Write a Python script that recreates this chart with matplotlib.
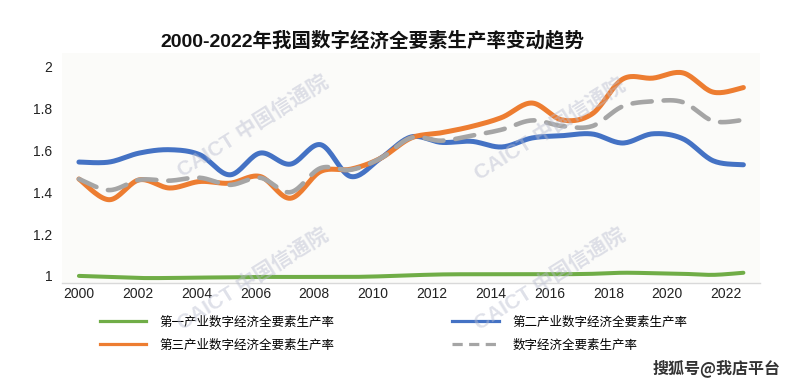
import numpy as np
import matplotlib
matplotlib.use('Agg')
from matplotlib import pyplot as plt
from matplotlib.lines import Line2D

plt.rcParams['font.family'] = ['Liberation Sans', 'Noto Sans CJK SC', 'DejaVu Sans']

# data
years = np.arange(2000, 2023)
primary = [1.000, 0.995, 0.990, 0.990, 0.992, 0.993, 0.995, 0.995, 0.995, 0.995, 0.998, 1.003,
           1.007, 1.008, 1.008, 1.008, 1.008, 1.010, 1.015, 1.013, 1.010, 1.005, 1.015]
secondary = [1.544, 1.544, 1.587, 1.603, 1.579, 1.483, 1.587, 1.534, 1.627, 1.475, 1.563, 1.664,
             1.638, 1.643, 1.616, 1.659, 1.670, 1.678, 1.635, 1.679, 1.655, 1.550, 1.531]
tertiary = [1.463, 1.364, 1.459, 1.420, 1.451, 1.443, 1.475, 1.371, 1.499, 1.510, 1.563, 1.659,
            1.684, 1.714, 1.757, 1.826, 1.745, 1.775, 1.940, 1.945, 1.970, 1.878, 1.900]
overall = [1.463, 1.410, 1.459, 1.455, 1.469, 1.435, 1.469, 1.400, 1.515, 1.507, 1.563, 1.660,
           1.646, 1.670, 1.699, 1.743, 1.716, 1.716, 1.810, 1.834, 1.830, 1.740, 1.745]

names = ['第一产业数字经济全要素生产率', '第二产业数字经济全要素生产率',
         '第三产业数字经济全要素生产率', '数字经济全要素生产率']
title = '2000-2022年我国数字经济全要素生产率变动趋势'
yticks = [1, 1.2, 1.4, 1.6, 1.8, 2]
xtick_years = np.arange(2000, 2023, 2)


def smooth(x, y, n=20):
    # excel-style smoothed line (catmull-rom bezier)
    x = np.asarray(x, float)
    y = np.asarray(y, float)
    px = np.concatenate([[x[0]], x, [x[-1]]])
    py = np.concatenate([[y[0]], y, [y[-1]]])
    t = np.linspace(0, 1, n)[:, None]
    xs, ys = [], []
    for i in range(1, len(px) - 2):
        p1 = np.array([px[i], py[i]])
        p2 = np.array([px[i + 1], py[i + 1]])
        c1 = p1 + (p2 - np.array([px[i - 1], py[i - 1]])) / 6
        c2 = p2 - (np.array([px[i + 2], py[i + 2]]) - p1) / 6
        pts = ((1 - t) ** 3) * p1 + 3 * ((1 - t) ** 2) * t * c1 + 3 * (1 - t) * t ** 2 * c2 + t ** 3 * p2
        xs.append(pts[:, 0])
        ys.append(pts[:, 1])
    return np.concatenate(xs), np.concatenate(ys)


green = '#70AD47'
blue = '#4472C4'
orange = '#ED7D31'
gray = '#A5A5A5'

fig = plt.figure(figsize=(7.92, 3.85), dpi=100, facecolor='white')
ax = fig.add_axes([0.0783, 0.2649, 0.8813, 0.5974])
ax.set_facecolor('#fbfbf9')

x, y = smooth(years, primary)
ax.plot(x, y, color=green, lw=2.9, solid_capstyle='round', zorder=3)
x, y = smooth(years, secondary)
ax.plot(x, y, color=blue, lw=3.6, solid_capstyle='round', zorder=3)
x, y = smooth(years, tertiary)
ax.plot(x, y, color=orange, lw=3.6, solid_capstyle='round', zorder=3)
x, y = smooth(years, overall)
ax.plot(x, y, color=gray, lw=3.3, dashes=(4.2, 2.6), dash_capstyle='round', zorder=4)

ax.set_xlim(1999.44, 2022.55)
ax.set_ylim(0.966, 2.065)
for s in ['top', 'right', 'left']:
    ax.spines[s].set_visible(False)
ax.spines['bottom'].set_color('#d9d9d9')
ax.spines['bottom'].set_linewidth(1)

# category labels sit slightly tighter than the plotted points
ax.set_xticks(2000 + (xtick_years - 2000) * 0.974)
ax.set_xticklabels([str(v) for v in xtick_years], fontsize=10, color='#222222')
ax.set_yticks(yticks)
ax.set_yticklabels([f'{v:g}' for v in yticks], fontsize=10, color='#222222')
ax.tick_params(axis='x', length=0, pad=3)
ax.tick_params(axis='y', length=0, pad=7)

fig.text(0.470, 0.8935, title, ha='center', va='center', fontsize=14, fontweight='bold',
         color='#111111', family=['Liberation Sans', 'Noto Sans CJK SC'])

# watermark
for wx, wy in [(253, 127), (253, 280), (550, 130), (550, 280)]:
    fig.text(wx / 792, 1 - wy / 385, 'CAICT 中国信通院', ha='center', va='center', rotation=32,
             fontsize=15, fontweight='bold', color='#b8bccf', alpha=0.45, zorder=10,
             family=['Liberation Sans', 'Noto Sans CJK SC'])

handles = [Line2D([], [], color=green, lw=2.3),
           Line2D([], [], color=orange, lw=2.3),
           Line2D([], [], color=blue, lw=2.3),
           Line2D([], [], color=gray, lw=2.3, dashes=(3.2, 2.0))]
labels = [names[0], names[2], names[1], names[3]]
fig.legend(handles, labels, loc='upper left', bbox_to_anchor=(0.126, 0.18), ncol=2,
           frameon=False, handlelength=3.7, handletextpad=1.1,
           columnspacing=9.4, labelspacing=0.8, borderpad=0, borderaxespad=0,
           prop={'family': ['Noto Sans CJK SC'], 'size': 9})

fig.text(0.985, 0.045, '搜狐号@我店平台', ha='right', va='center', fontsize=11.5,
         fontweight='bold', color='#333333', family=['Noto Sans CJK SC'])

fig.savefig('out.png', dpi=100, facecolor=fig.get_facecolor())
